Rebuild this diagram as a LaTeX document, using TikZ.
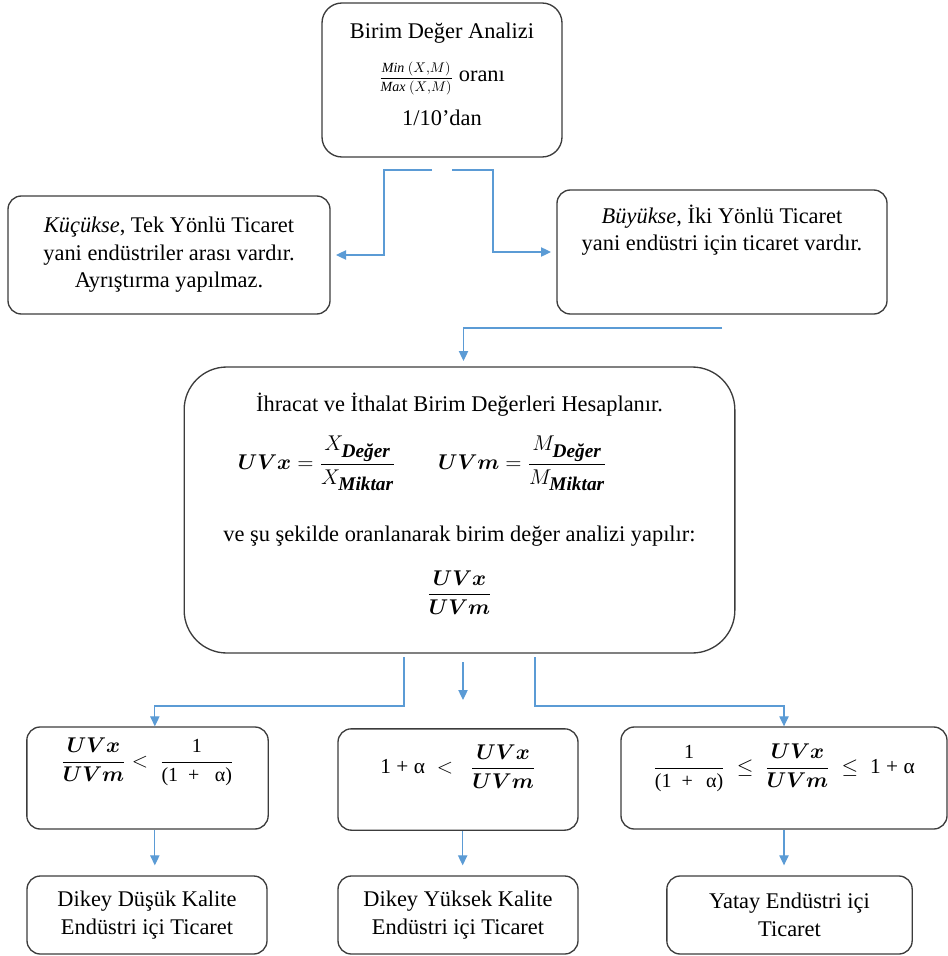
\RequirePackage{fix-cm}
\documentclass[tikz,border=0pt]{standalone}
\usepackage{fontspec}
\setmainfont{Liberation Serif}
\usepackage{amsmath}
\usetikzlibrary{arrows.meta}
\definecolor{okmavi}{RGB}{91,155,213}
\definecolor{kenar}{RGB}{60,60,60}
\newcommand{\mboy}{\fontsize{16}{19}\selectfont}
\newcommand{\altyazi}[1]{\mbox{\fontsize{14.5}{17}\selectfont\bfseries\itshape #1}}
\newcommand{\kucukyazi}[1]{\text{\fontsize{15}{17}\selectfont #1}}

\begin{document}
\begin{tikzpicture}[x=0.75pt, y=-0.75pt, font=\fontsize{16.8}{20.6}\selectfont,
    kutu/.style={draw=kenar, line width=1pt, rounded corners=10pt, align=center, inner sep=0pt},
    ok/.style={draw=okmavi, line width=0.9pt, -{Triangle[length=7.5pt,width=7pt]}}]

   \useasboundingbox (0,0) rectangle (948,956);

   \node[kutu, rounded corners=15pt, minimum width=180pt, minimum height=115.5pt, text depth=9pt] (analiz) at (442,80)
      {Birim Değer Analizi\\[12pt]
       {\fontsize{10.5}{12}\selectfont$\dfrac{\mathit{Min}\ (X{,}M)}{\mathit{Max}\ (X{,}M)}$} oranı\\[10pt]
       1/10’dan};
   \node[kutu, minimum width=241.5pt, minimum height=88.5pt] (kucuk) at (169,255)
      {\textit{Küçükse}, Tek Yönlü Ticaret\\ yani endüstriler arası vardır.\\ Ayrıştırma yapılmaz.};
   \node[kutu, minimum width=247.5pt, minimum height=93pt, text depth=36pt] (buyuk) at (722,252)
      {\textit{Büyükse}, İki Yönlü Ticaret\\ yani endüstri için ticaret vardır.};
   \node[kutu, rounded corners=32pt, minimum width=413pt, minimum height=214.5pt, text depth=20pt] (hesap) at (459.5,510)
      {İhracat ve İthalat Birim Değerleri Hesaplanır.\\[14pt]
       {\mboy$\boldsymbol{UVx} = \dfrac{X_{\altyazi{Değer}}}{X_{\altyazi{Miktar}}}
        \qquad \boldsymbol{UVm} = \dfrac{M_{\altyazi{Değer}}}{M_{\altyazi{Miktar}}}$}\kern56pt\mbox{}\\[25pt]
       ve şu şekilde oranlanarak birim değer analizi yapılır:\\[18pt]
       {\mboy$\dfrac{\boldsymbol{UVx}}{\boldsymbol{UVm}}$}};

   % kosullar
   \node[kutu, minimum width=181pt, minimum height=76.5pt, text height=20pt, text depth=36pt] (kosul1) at (147.5,778)
      {\mboy$\dfrac{\boldsymbol{UVx}}{\boldsymbol{UVm}} < \;\dfrac{\kucukyazi{1}}{\kucukyazi{(1\enspace+\enspace\;α)}}$};
   \node[kutu, minimum width=180pt, minimum height=76pt, text height=20pt, text depth=29pt] (kosul2) at (458,779.5)
      {\mboy$\text{1 + α} \;<\;\; \dfrac{\boldsymbol{UVx}}{\boldsymbol{UVm}}$};
   \node[kutu, minimum width=244.5pt, minimum height=76.5pt, text height=20pt, text depth=27pt] (kosul3) at (784,778)
      {\mboy$\dfrac{\kucukyazi{1}}{\kucukyazi{(1\enspace+\enspace\,α)}} \;\le\; \dfrac{\boldsymbol{UVx}}{\boldsymbol{UVm}} \;\le\; \text{1 + α}$};

   \foreach \i/\x/\w/\t in {1/147/180pt/Dikey Düşük Kalite\\Endüstri içi Ticaret,
                           2/458/180pt/Dikey Yüksek Kalite\\Endüstri içi Ticaret,
                           3/789.5/184pt/Yatay Endüstri içi\\Ticaret}
     \node[kutu, minimum width=\w, minimum height=58.5pt] (sonuc\i) at (\x,915) {\t};

   \coordinate (b1) at (432,170);
   \coordinate (b2) at (452,170);
   \coordinate (b3) at (722,328);
   \coordinate (b4) at (404,657);
   \coordinate (b5) at (463,662);
   \coordinate (b6) at (463,700);
   \coordinate (b7) at (535,657);

   \draw[ok, shorten >=4pt] (b1) -- ++(-48,0) |- (kucuk);
   \draw[ok, shorten >=4pt] (b2) -- ++(41,0) |- (buyuk);
   \draw[ok, shorten >=4pt] (b3) -| ([xshift=3pt]hesap.north);
   \draw[ok] (b4) -- ++(0,49) -| ([xshift=5.5pt]kosul1.north);
   \draw[ok] (b5) -- (b6);
   \draw[ok] (b7) -- ++(0,49) -| (kosul3);

   \foreach \i/\d in {1/5.5pt, 2/3.5pt, 3/0pt}
     \draw[ok, shorten >=7.5pt] ([xshift=\d]kosul\i.south) -- ([xshift=\d]kosul\i.south |- sonuc\i.north);

\end{tikzpicture}
\end{document}
